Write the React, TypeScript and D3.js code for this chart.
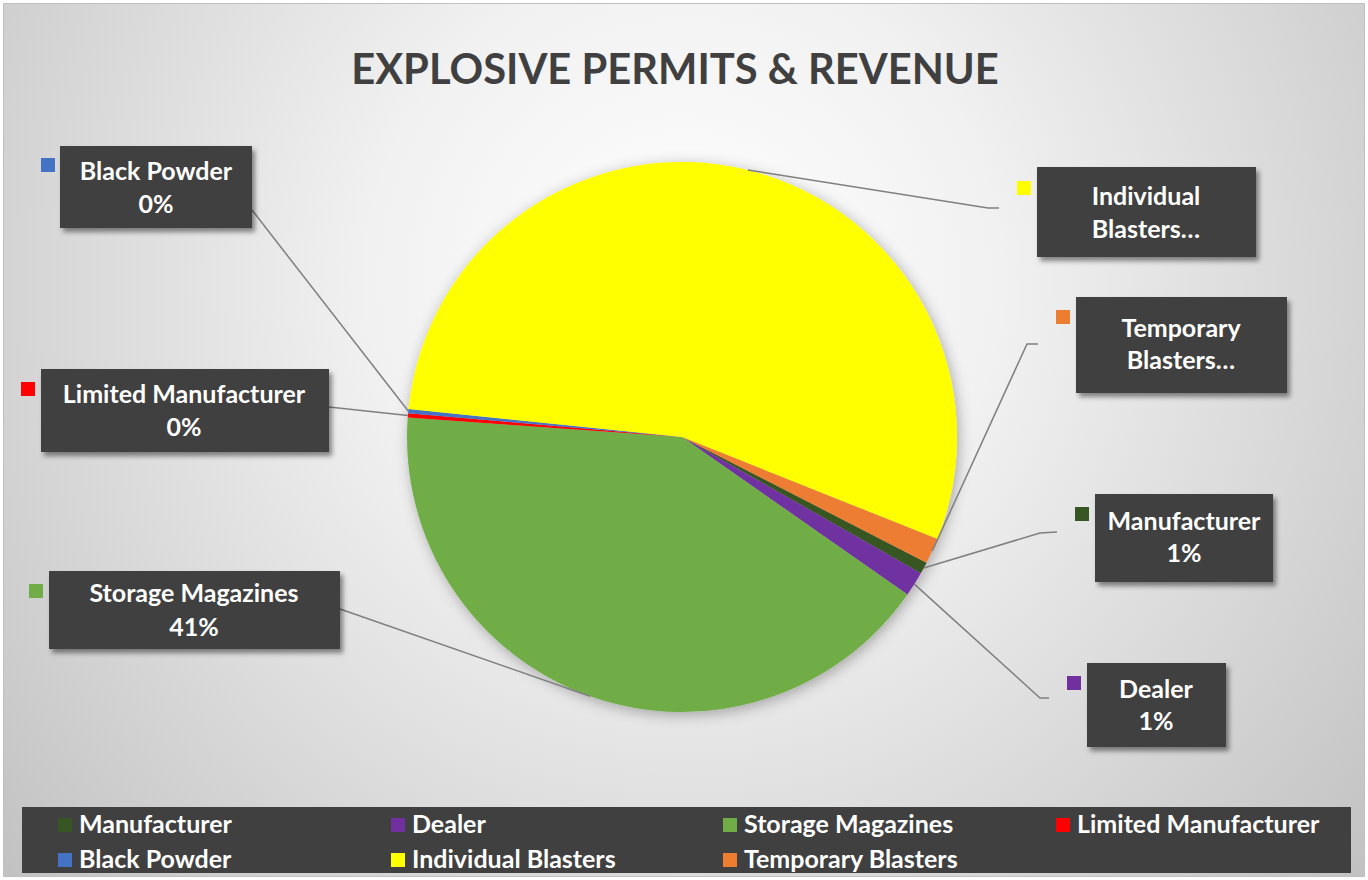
import React from 'react';
import * as d3 from 'd3';

// ---- Data ----
const categories = [
  'Manufacturer',
  'Dealer',
  'Storage Magazines',
  'Limited Manufacturer',
  'Black Powder',
  'Individual Blasters',
  'Temporary Blasters',
];
const values = [0.7, 1.45, 41.4, 0.25, 0.25, 54.4, 1.5];
const colors = ['#375623', '#7030A0', '#70AD47', '#FF0000', '#4472C4', '#FFFF00', '#ED7D31'];
const labelFirstLines = ['Manufacturer', 'Dealer', 'Storage Magazines', 'Limited Manufacturer', 'Black Powder', 'Individual', 'Temporary'];
const labelSecondLines: (string | null)[] = [null, null, null, null, null, 'Blasters…', 'Blasters…'];
const title = 'EXPLOSIVE PERMITS & REVENUE';

// ---- Layout (positions only) ----
const W = 1368;
const H = 880;
const CX = 682;
const CY = 437;
const R = 275;
const START_DEG = 117.2;
const FONT = "Lato, 'Open Sans', sans-serif";
const LABEL_FS = 25;
const KEY = 14;

type LabelLayout = {
  box: [number, number, number, number];
  key: [number, number];
  cx: number;
  b1: number;
  b2: number;
  leader: [number, number][];
};

const labelLayout: LabelLayout[] = [
  { box: [1095, 494, 178, 88], key: [1075, 507], cx: 1184, b1: 530, b2: 562, leader: [[1040, 533], [1057, 532]] },
  { box: [1087, 663, 139, 84], key: [1067, 676], cx: 1156, b1: 698, b2: 730, leader: [[1040, 698], [1049, 698]] },
  { box: [49, 571, 291, 78], key: [29, 584], cx: 194, b1: 602, b2: 636, leader: [[340, 609]] },
  { box: [41, 369, 288, 83], key: [21, 382], cx: 184, b1: 403, b2: 436, leader: [[329, 407]] },
  { box: [60, 146, 192, 82], key: [41, 158], cx: 156, b1: 180, b2: 213, leader: [[252, 210]] },
  { box: [1037, 167, 219, 90], key: [1017, 181], cx: 1146, b1: 205, b2: 238, leader: [[988, 208], [999, 208]] },
  { box: [1076, 297, 211, 96], key: [1056, 310], cx: 1181, b1: 337, b2: 369, leader: [[1027, 344], [1038, 344]] },
];

const legendCols = [58, 391, 723, 1056];
const legendRows = [818, 853];

export default function App() {
  const total = d3.sum(values);
  const pctFmt = d3.format('.0%');
  const start = (START_DEG * Math.PI) / 180;
  const pie = d3
    .pie<number>()
    .sort(null)
    .value((d) => d)
    .startAngle(start)
    .endAngle(start + 2 * Math.PI);
  const arcs = pie(values);
  const arc = d3.arc<d3.PieArcDatum<number>>().innerRadius(0).outerRadius(R);

  const edgePoint = (a: d3.PieArcDatum<number>): [number, number] => {
    const m = (a.startAngle + a.endAngle) / 2;
    return [CX + R * Math.sin(m), CY - R * Math.cos(m)];
  };

  const line = d3.line();

  return (
    <svg
      width={W}
      height={H}
      style={{ position: 'absolute', left: 0, top: 0, display: 'block' }}
      xmlns="http://www.w3.org/2000/svg"
    >
      <defs>
        <radialGradient id="bg" gradientUnits="userSpaceOnUse" cx={684} cy={280} r={900}>
          <stop offset="0" stopColor="#ffffff" />
          <stop offset="0.35" stopColor="#f1f1f1" />
          <stop offset="1" stopColor="#c2c2c2" />
        </radialGradient>
        <filter id="pieShadow" x="-20%" y="-20%" width="140%" height="140%">
          <feDropShadow dx="2" dy="3" stdDeviation="7" floodColor="#000" floodOpacity="0.3" />
        </filter>
        <filter id="boxShadow" x="-10%" y="-20%" width="125%" height="150%">
          <feDropShadow dx="3" dy="4" stdDeviation="2.5" floodColor="#000" floodOpacity="0.45" />
        </filter>
      </defs>

      <rect x={3.5} y={3.5} width={W - 7} height={H - 7} fill="url(#bg)" stroke="#c0c0c0" strokeWidth={1} />

      <text
        x={675}
        y={84}
        textAnchor="middle"
        fontFamily={FONT}
        fontWeight={700}
        fontSize={41.7}
        fill="#404040"
      >
        {title}
      </text>

      <g filter="url(#pieShadow)">
        {arcs.map((a, i) => (
          <path key={categories[i]} d={arc(a) || ''} transform={`translate(${CX},${CY})`} fill={colors[i]} />
        ))}
      </g>

      {/* leader lines */}
      {arcs.map((a, i) => {
        const pts: [number, number][] = [edgePoint(a), ...labelLayout[i].leader];
        return (
          <path
            key={'leader-' + categories[i]}
            d={line(pts) || ''}
            fill="none"
            stroke="#7f7f7f"
            strokeWidth={1.5}
          />
        );
      })}

      {/* data labels */}
      {arcs.map((a, i) => {
        const L = labelLayout[i];
        const second = labelSecondLines[i] ?? pctFmt(values[i] / total);
        return (
          <g key={'label-' + categories[i]}>
            <rect x={L.key[0]} y={L.key[1]} width={KEY} height={KEY} fill={colors[i]} />
            <rect
              x={L.box[0]}
              y={L.box[1]}
              width={L.box[2]}
              height={L.box[3]}
              fill="#404040"
              filter="url(#boxShadow)"
            />
            <text
              textAnchor="middle"
              fontFamily={FONT}
              fontWeight={700}
              fontSize={LABEL_FS}
              fill="#ffffff"
            >
              <tspan x={L.cx} y={L.b1}>{labelFirstLines[i]}</tspan>
              <tspan x={L.cx} y={L.b2}>{second}</tspan>
            </text>
          </g>
        );
      })}

      {/* legend */}
      <rect x={22} y={807} width={1329} height={66} fill="#404040" />
      {categories.map((c, i) => {
        const col = i % 4;
        const row = Math.floor(i / 4);
        const kx = legendCols[col];
        const ky = legendRows[row];
        return (
          <g key={'legend-' + c}>
            <rect x={kx} y={ky} width={KEY} height={KEY} fill={colors[i]} />
            <text
              x={kx + 21}
              y={ky + 14.5}
              fontFamily={FONT}
              fontWeight={700}
              fontSize={LABEL_FS}
              fill="#ffffff"
            >
              {c}
            </text>
          </g>
        );
      })}
    </svg>
  );
}
